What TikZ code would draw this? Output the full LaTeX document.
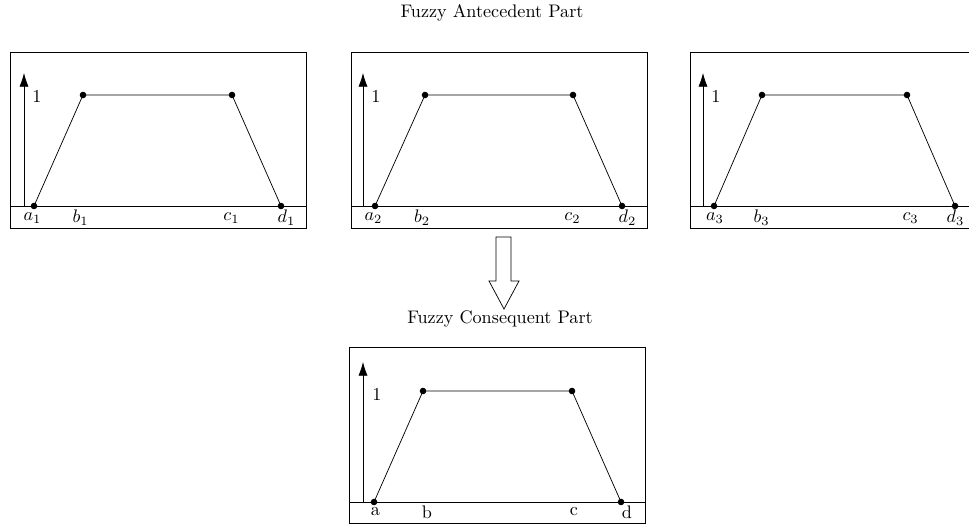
\documentclass[tikz,border=0pt]{standalone}
\usetikzlibrary{arrows.meta}
\begin{document}
\begin{tikzpicture}[x=0.55pt,y=-0.55pt,
  thinline/.style={line width=0.4pt},
  dotpt/.style={circle,fill,inner sep=0pt,minimum size=3.6pt},
  lbl/.style={inner sep=0pt},
  yarrow/.style={-{Latex[length=7.5pt,width=5pt]}},
  hollow/.style={draw,line width=0.4pt,fill=white}]
\useasboundingbox (0,0) rectangle (969,525);
\clip (0,0) rectangle (969,525);

\node[lbl] (title1) at (492,13) {Fuzzy Antecedent Part};
\node[lbl] (title2) at (500,319) {Fuzzy Consequent Part};

\foreach \i/\x/\ax/\pa/\pb/\pc/\pd/\la/\lb/\lc/\ld in
  {1/10/14/24/73/222/271/22.5/70.5/221.5/276.5,
   2/351/12/24/74/222/271/22.5/71/221.5/276.5,
   3/690/13/24/72/217/265/25/71.5/220.5/265.5}{
  \begin{scope}[shift={(\x,52)}]
    \coordinate (tl\i) at (0,0);
    \coordinate (br\i) at (296,176);
    \draw[thinline] (tl\i) rectangle (br\i);
    \coordinate (ol\i) at (0,154);
    \coordinate (or\i) at (296,154);
    \draw[thinline] (ol\i) -- (or\i);
    \coordinate (ab\i) at (\ax,154);
    \coordinate (at\i) at (\ax,21);
    \draw[thinline,yarrow] (ab\i) -- (at\i);
    \node[dotpt] (a\i) at (\pa,154) {};
    \node[dotpt] (b\i) at (\pb,43) {};
    \node[dotpt] (c\i) at (\pc,43) {};
    \node[dotpt] (d\i) at (\pd,154) {};
    \draw[thinline] (a\i.center) -- (b\i.center) -- (c\i.center) -- (d\i.center);
    \node[lbl,anchor=west] (one\i) at (\ax+8,44) {1};
    \node[lbl] (la\i) at (\la,166) {$a_\i$};
    \node[lbl] (lb\i) at (\lb,166) {$b_\i$};
    \node[lbl] (lc\i) at (\lc,166) {$c_\i$};
    \node[lbl] (ld\i) at (\ld,166) {$d_\i$};
  \end{scope}
}

\begin{scope}[shift={(349,347)}]
  \coordinate (tl4) at (0,0);
  \coordinate (br4) at (296,176);
  \draw[thinline] (tl4) rectangle (br4);
  \coordinate (ol4) at (0,155);
  \coordinate (or4) at (296,155);
  \draw[thinline] (ol4) -- (or4);
  \coordinate (ab4) at (14,155);
  \coordinate (at4) at (14,15);
  \draw[thinline,yarrow] (ab4) -- (at4);
  \node[dotpt] (a4) at (25,155) {};
  \node[dotpt] (b4) at (74,44) {};
  \node[dotpt] (c4) at (223,44) {};
  \node[dotpt] (d4) at (272,155) {};
  \draw[thinline] (a4.center) -- (b4.center) -- (c4.center) -- (d4.center);
  \node[lbl,anchor=west] (one4) at (23,47) {1};
  \node[lbl] (la4) at (26.5,165) {a};
  \node[lbl] (lb4) at (78,165) {b};
  \node[lbl] (lc4) at (225,165) {c};
  \node[lbl] (ld4) at (278,165) {d};
\end{scope}

\draw[hollow] (496,237) -- (511,237) -- (511,281) -- (519,281) -- (504,309)
  -- (489,281) -- (496,281) -- cycle;
\end{tikzpicture}
\end{document}
